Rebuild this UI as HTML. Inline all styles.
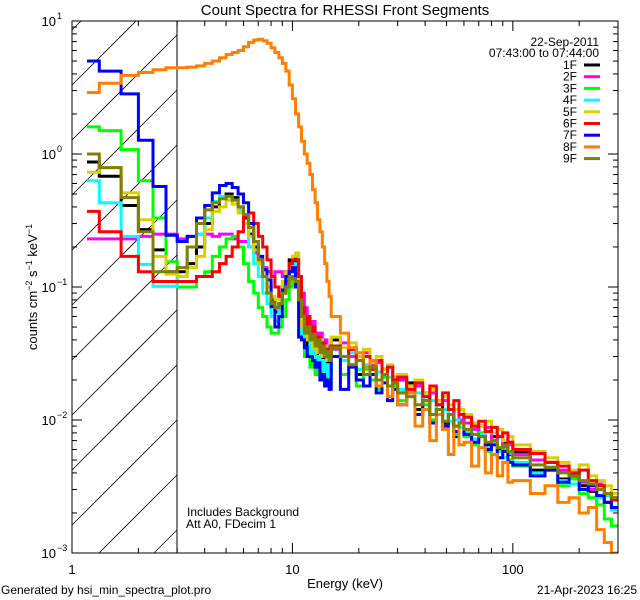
<!DOCTYPE html>
<html><head><meta charset="utf-8"><style>
html,body{margin:0;padding:0;background:#fff;width:640px;height:600px;overflow:hidden;}
svg{display:block;font-family:"Liberation Sans",sans-serif;width:640px;height:600px;}
</style></head><body>
<svg id="chart" width="640" height="600" viewBox="0 0 640 600" xmlns="http://www.w3.org/2000/svg">
<rect x="0" y="0" width="640" height="600" fill="#fff"/>
<defs>
<clipPath id="plotclip"><rect x="72" y="21" width="546" height="532"/></clipPath>
</defs>
<text x="345" y="15" font-size="15" text-anchor="middle">Count Spectra for RHESSI Front Segments</text>
<g id="hatch"></g>
<line x1="177" y1="21" x2="177" y2="553" stroke="#000" stroke-width="1"/>
<g id="series" clip-path="url(#plotclip)"></g>
<rect x="72" y="21" width="546" height="532" fill="none" stroke="#000" stroke-width="1"/>
<g id="axes"></g>
<text transform="translate(37,287) rotate(-90)" font-size="13" text-anchor="middle">counts cm<tspan font-size="9" dy="-5">−2</tspan><tspan dy="5"> s</tspan><tspan font-size="9" dy="-5">−1</tspan><tspan dy="5"> keV</tspan><tspan font-size="9" dy="-5">−1</tspan></text>
<text x="345" y="588" font-size="13" text-anchor="middle">Energy (keV)</text>
<text x="599" y="46" font-size="12" text-anchor="end">22-Sep-2011</text>
<text x="599" y="57" font-size="12" text-anchor="end">07:43:00 to 07:44:00</text>
<g id="legend"></g>
<text x="187" y="516" font-size="12">Includes Background</text>
<text x="186" y="528" font-size="12">Att A0, FDecim 1</text>
<text x="1" y="594" font-size="12">Generated by hsi_min_spectra_plot.pro</text>
<text x="637" y="594" font-size="12" text-anchor="end">21-Apr-2023 16:25</text>
</svg>
<script>
const energyEdges = [1.17,1.33,1.67,2,2.33,2.67,3,3.33,3.67,4,4.33,4.67,5,5.33,5.67,6,6.33,6.67,7,7.33,7.67,8,8.33,8.67,9,9.33,9.67,10,10.33,10.67,11,11.33,11.67,12,12.33,12.67,13,13.33,13.67,14,14.33,14.67,15,16.5,18,19.5,21,22.5,24,25.5,27,28.5,30,33,36,39,42,45,48,51,54,57,60,65,70,75,80,85,90,95,100,120,140,160,180,200,220,240,260,280,300];
const seriesNames = ["1F","2F","3F","4F","5F","6F","7F","8F","9F"];
const seriesColors = ["#000000","#ff00ff","#00ff00","#00ffff","#d8d000","#ff0000","#0000ff","#ff8000","#808000"];
const s1F = [0.87,0.68,0.41,0.27,0.19,0.13,
0.13,0.15,0.2,0.3,0.4,0.47,0.5,0.47,0.4,0.33,0.25,0.2,0.15,0.12,0.1,0.08,0.065,0.075,0.1,0.13,0.16,0.15,0.17,0.08,0.045,0.05,0.035,0.04,0.028,0.035,0.03,0.025,0.032,0.022,0.028,0.024,
0.04,0.03,0.034,0.022,0.03,0.025,0.02,0.024,0.018,0.021,
0.016,0.019,0.012,0.016,0.011,0.014,0.0095,0.012,0.0075,0.011,
0.0085,0.0072,0.009,0.0065,0.0075,0.006,0.0068,0.0055,
0.0058,0.0042,0.0048,0.0036,0.004,0.0032,0.0029,0.0026,0.0024,0.0028];
const s2F = [0.23,0.23,0.23,0.24,0.25,0.25,
0.23,0.24,0.25,0.25,0.24,0.25,0.25,0.23,0.22,0.22,0.2,0.18,0.16,0.14,0.13,0.12,0.13,0.13,0.12,0.13,0.14,0.13,0.12,0.1,0.09,0.07,0.06,0.05,0.055,0.045,0.04,0.045,0.035,0.04,0.032,0.036,
0.034,0.038,0.03,0.028,0.032,0.026,0.027,0.022,0.025,0.02,
0.02,0.017,0.018,0.015,0.016,0.013,0.014,0.011,0.012,0.01,
0.0095,0.0085,0.008,0.0088,0.007,0.0075,0.0062,0.0065,
0.0055,0.005,0.0044,0.0042,0.0036,0.0034,0.003,0.0033,0.0028,0.0026];
const s3F = [1.6,1.5,1.08,0.63,0.33,0.155,
0.1,0.1,0.12,0.13,0.17,0.2,0.23,0.24,0.2,0.15,0.11,0.09,0.07,0.06,0.05,0.045,0.045,0.05,0.06,0.08,0.1,0.12,0.1,0.06,0.04,0.03,0.035,0.025,0.03,0.022,0.028,0.02,0.025,0.02,0.023,0.019,
0.03,0.022,0.026,0.018,0.024,0.02,0.017,0.021,0.015,0.018,
0.014,0.016,0.011,0.013,0.01,0.012,0.0085,0.011,0.0078,0.0095,
0.0075,0.0065,0.008,0.0058,0.0068,0.0052,0.006,0.005,
0.0045,0.0038,0.0042,0.0032,0.0036,0.0028,0.0026,0.0023,0.0018,0.0016];
const s4F = [0.63,0.43,0.24,0.148,0.101,0.101,
0.12,0.2,0.25,0.33,0.44,0.48,0.48,0.45,0.38,0.3,0.2,0.15,0.12,0.09,0.075,0.06,0.055,0.07,0.09,0.12,0.14,0.15,0.13,0.06,0.045,0.04,0.045,0.03,0.035,0.027,0.03,0.024,0.028,0.022,0.026,0.021,
0.035,0.028,0.032,0.024,0.026,0.022,0.023,0.019,0.021,0.017,
0.017,0.015,0.016,0.012,0.014,0.011,0.012,0.0098,0.01,0.0088,
0.0082,0.0072,0.0078,0.0062,0.0068,0.0058,0.0052,0.0056,
0.0048,0.004,0.0044,0.0035,0.0033,0.003,0.0033,0.0026,0.0027,0.0021];
const s5F = [0.73,0.79,0.51,0.32,0.17,0.125,
0.12,0.14,0.17,0.27,0.37,0.4,0.45,0.42,0.36,0.3,0.24,0.19,0.15,0.12,0.1,0.085,0.08,0.09,0.11,0.13,0.15,0.17,0.18,0.1,0.05,0.055,0.04,0.048,0.035,0.042,0.032,0.04,0.03,0.036,0.028,0.034,
0.042,0.035,0.038,0.03,0.034,0.027,0.03,0.024,0.026,0.021,
0.022,0.018,0.02,0.016,0.017,0.014,0.015,0.013,0.012,0.012,
0.011,0.0095,0.009,0.0098,0.008,0.0085,0.007,0.0075,
0.0065,0.0058,0.0052,0.0048,0.0042,0.0046,0.0038,0.0035,0.0032,0.0028];
const s6F = [0.37,0.26,0.17,0.13,0.11,0.11,
0.11,0.11,0.12,0.12,0.13,0.15,0.17,0.2,0.26,0.34,0.36,0.3,0.24,0.2,0.16,0.12,0.1,0.085,0.09,0.11,0.15,0.16,0.16,0.12,0.07,0.05,0.06,0.045,0.05,0.038,0.042,0.034,0.038,0.03,0.034,0.028,
0.036,0.03,0.034,0.028,0.03,0.024,0.028,0.022,0.025,0.02,
0.021,0.017,0.019,0.015,0.018,0.013,0.016,0.012,0.014,0.011,
0.0105,0.009,0.0098,0.0082,0.0088,0.0075,0.008,0.0068,
0.006,0.0056,0.0048,0.0045,0.004,0.0042,0.0035,0.0032,0.0028,0.0025];
const s7F = [5.0,4.2,2.83,1.27,0.57,0.245,
0.22,0.24,0.33,0.41,0.51,0.58,0.6,0.56,0.5,0.43,0.3,0.22,0.17,0.135,0.113,0.071,0.05,0.06,0.095,0.12,0.13,0.14,0.1,0.042,0.04,0.035,0.03,0.03,0.028,0.025,0.027,0.02,0.022,0.018,0.02,0.017,
0.03,0.017,0.025,0.02,0.018,0.022,0.016,0.019,0.014,0.017,
0.013,0.016,0.011,0.014,0.0095,0.012,0.009,0.011,0.0082,0.0095,
0.0078,0.0068,0.0075,0.006,0.0065,0.0052,0.0058,0.0048,
0.0046,0.0038,0.0042,0.0034,0.0038,0.003,0.0032,0.0027,0.0024,0.0022];
const s8F = [2.9,3.4,3.9,4.1,4.3,4.45,
4.45,4.5,4.6,4.8,5.0,5.3,5.6,5.8,6.0,6.4,6.9,7.2,7.3,7.1,6.8,6.3,5.8,5.3,4.8,4.2,3.3,2.6,2.0,1.6,1.25,1.0,0.85,0.7,0.54,0.43,0.32,0.26,0.2,0.15,0.11,0.085,
0.06,0.045,0.035,0.032,0.025,0.028,0.018,0.022,0.015,0.019,
0.013,0.016,0.009,0.012,0.007,0.011,0.0085,0.0055,0.009,0.0065,
0.0068,0.0045,0.0062,0.004,0.0055,0.0038,0.0048,0.0034,
0.0035,0.0028,0.0032,0.0024,0.0026,0.002,0.0022,0.0015,0.0012,0.001];
const s9F = [1.0,0.79,0.47,0.26,0.13,0.13,
0.14,0.2,0.3,0.38,0.43,0.46,0.48,0.45,0.4,0.35,0.28,0.22,0.16,0.12,0.09,0.075,0.07,0.075,0.09,0.1,0.12,0.115,0.11,0.08,0.06,0.045,0.05,0.04,0.044,0.036,0.04,0.032,0.036,0.03,0.033,0.028,
0.035,0.03,0.026,0.028,0.022,0.025,0.02,0.022,0.018,0.019,
0.016,0.015,0.013,0.014,0.011,0.012,0.0098,0.011,0.009,0.0095,
0.0085,0.0078,0.0075,0.0068,0.007,0.0062,0.0065,0.0058,
0.0052,0.0046,0.0044,0.004,0.0038,0.0035,0.0033,0.003,0.0028,0.0026];
const allSeries = [s1F,s2F,s3F,s4F,s5F,s6F,s7F,s8F,s9F];
const xTickMajor = [1,10,100];
const xTickLabels = ["1","10","100"];
const yTickMajorExp = [-3,-2,-1,0,1];

const NS = "http://www.w3.org/2000/svg";
const X0 = 72, X1 = 618, Y0 = 21, Y1 = 553;
const xMinLog = 0, xMaxLog = Math.log10(300);
const yMinLog = -3, yMaxLog = 1;
function xScale(e){ return X0 + (Math.log10(e) - xMinLog) / (xMaxLog - xMinLog) * (X1 - X0); }
function yScale(v){ return Y1 - (Math.log10(v) - yMinLog) / (yMaxLog - yMinLog) * (Y1 - Y0); }
function mk(tag, attrs, parent){ const el = document.createElementNS(NS, tag); for (const k in attrs) el.setAttribute(k, attrs[k]); parent.appendChild(el); return el; }

// hatch: 45° lines clipped manually to the region x 72..177, y 21..553
const hatch = document.getElementById('hatch');
const HX0 = 72, HX1 = 177;
for (let k = -3; k < 14; k++) {
  const y0 = 85 + 55 * k; // y at x=HX0; line: y = y0 - (x - HX0)
  let xa = HX0, xb = HX1;
  // y within [Y0, Y1]
  xa = Math.max(xa, HX0 + (y0 - Y1));
  xb = Math.min(xb, HX0 + (y0 - Y0));
  if (xb <= xa) continue;
  const ln = mk('line', {x1: xa, y1: y0 - (xa - HX0), x2: xb, y2: y0 - (xb - HX0), stroke: '#000', 'stroke-width': 0.8}, hatch);
  
  
}

const sg = document.getElementById('series');
allSeries.forEach((vals, si) => {
  let d = '';
  for (let i = 0; i < vals.length; i++) {
    const xa = xScale(energyEdges[i]).toFixed(1), xb = xScale(energyEdges[i+1]).toFixed(1);
    const y = Math.min(Y1, yScale(vals[i])).toFixed(1);
    d += (i === 0 ? 'M' : 'L') + xa + ',' + y + 'L' + xb + ',' + y;
  }
  const p = mk('path', {d: d, fill: 'none', stroke: seriesColors[si], 'stroke-width': 3, 'stroke-linejoin': 'miter'}, sg);
  
  
});

const ax = document.getElementById('axes');
for (let dec = 1; dec <= 100; dec *= 10) {
  for (let m = 1; m <= 9; m++) {
    const e = dec * m;
    if (e > 300) break;
    const x = xScale(e);
    const len = m === 1 ? 10 : 5;
    const t1 = mk('line', {x1: x, y1: Y1, x2: x, y2: Y1 - len, stroke: '#000', 'stroke-width': 1}, ax);
    
    
    const t2 = mk('line', {x1: x, y1: Y0, x2: x, y2: Y0 + len, stroke: '#000', 'stroke-width': 1}, ax);
    
    
  }
}
xTickMajor.forEach((e, i) => {
  const t = mk('text', {x: xScale(e), y: 574, 'font-size': 13, 'text-anchor': 'middle'}, ax);
  t.textContent = xTickLabels[i];
  
  
});
for (let ex = -3; ex <= 0; ex++) {
  for (let m = 1; m <= 9; m++) {
    const y = yScale(m * Math.pow(10, ex));
    const len = m === 1 ? 10 : 5;
    const t1 = mk('line', {x1: X0, y1: y, x2: X0 + len, y2: y, stroke: '#000', 'stroke-width': 1}, ax);
    
    
    const t2 = mk('line', {x1: X1, y1: y, x2: X1 - len, y2: y, stroke: '#000', 'stroke-width': 1}, ax);
    
    
  }
}
yTickMajorExp.forEach(ex => {
  const y = yScale(Math.pow(10, ex));
  const t = mk('text', {x: 56, y: y + 5, 'font-size': 13, 'text-anchor': 'end'}, ax);
  t.textContent = '10';
  
  
  const s = mk('text', {x: 57, y: y - 2, 'font-size': 9, 'text-anchor': 'start'}, ax);
  s.textContent = ex < 0 ? '−' + (-ex) : String(ex);
  
  
});

const lg = document.getElementById('legend');
seriesNames.forEach((n, i) => {
  const y = 65 + i * 11.7;
  const t = mk('text', {x: 577, y: y + 4, 'font-size': 12, 'text-anchor': 'end'}, lg);
  t.textContent = n;
  
  
  const l = mk('line', {x1: 584, y1: y, x2: 600, y2: y, stroke: seriesColors[i], 'stroke-width': 3}, lg);
  
  
});
</script>
</body></html>
